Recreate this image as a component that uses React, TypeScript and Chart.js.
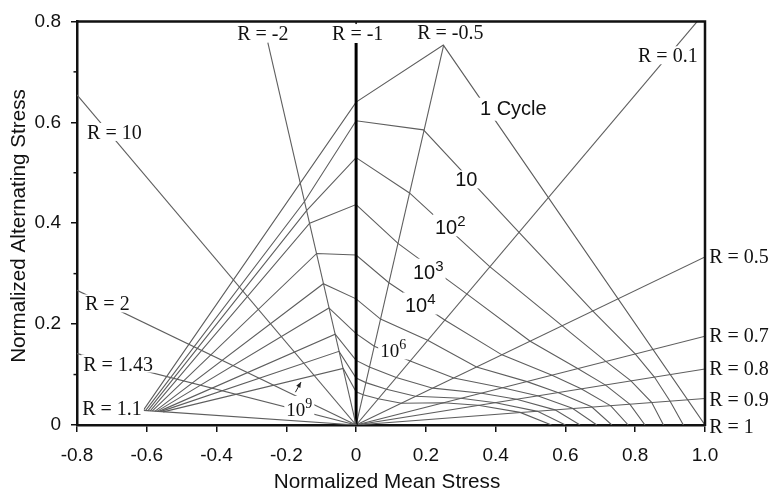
import React, { useEffect, useRef } from 'react';
import { Chart, registerables } from 'chart.js';

Chart.register(...registerables);

// ---- R-ratio rays (from origin to end point) ----
const rLineNames = ['R = 10', 'R = 2', 'R = 1.43', 'R = 1.1', 'R = -2', 'R = -1', 'R = -0.5', 'R = 0.1', 'R = 0.5', 'R = 0.7', 'R = 0.8', 'R = 0.9'];
const rLineEndMean = [-0.8, -0.8, -0.8, -0.62, -0.253, 0, 0.251, 0.978, 1.0, 1.0, 1.0, 1.0];
const rLineEndAlt = [0.6545, 0.267, 0.1416, 0.0295, 0.758, 0.757, 0.753, 0.8, 0.333, 0.176, 0.111, 0.0526];

// ---- constant life curves (normalized mean, normalized alternating) ----
const cycleNames = ['1', '10', '1e2', '1e3', '1e4', '1e5', '1e6', '1e7', '1e8', '1e9'];
const meanN1 = [-0.61, 0, 0.25, 1.0];
const altN1 = [0.029, 0.64, 0.753, 0];
const meanN10 = [-0.603, -0.148, 0, 0.193, 0.467, 0.678, 0.8, 0.855, 0.9, 0.938];
const altN10 = [0.029, 0.443, 0.603, 0.585, 0.382, 0.226, 0.141, 0.095, 0.047, 0];
const meanN1e2 = [-0.597, -0.142, 0, 0.153, 0.383, 0.59, 0.714, 0.787, 0.847, 0.881];
const altN1e2 = [0.028, 0.425, 0.53, 0.46, 0.314, 0.197, 0.127, 0.088, 0.045, 0];
const meanN1e3 = [-0.59, -0.133, 0, 0.12, 0.317, 0.499, 0.635, 0.715, 0.785, 0.828];
const altN1e3 = [0.028, 0.4, 0.437, 0.36, 0.26, 0.166, 0.112, 0.079, 0.041, 0];
const meanN1e4 = [-0.584, -0.113, 0, 0.094, 0.254, 0.418, 0.56, 0.645, 0.73, 0.78];
const altN1e4 = [0.028, 0.34, 0.337, 0.282, 0.208, 0.139, 0.099, 0.072, 0.038, 0];
const meanN1e5 = [-0.577, -0.094, 0, 0.07, 0.205, 0.345, 0.49, 0.58, 0.675, 0.733];
const altN1e5 = [0.027, 0.28, 0.25, 0.21, 0.168, 0.115, 0.086, 0.064, 0.036, 0];
const meanN1e6 = [-0.571, -0.078, 0, 0.052, 0.155, 0.28, 0.42, 0.52, 0.62, 0.69];
const altN1e6 = [0.027, 0.232, 0.181, 0.156, 0.127, 0.093, 0.074, 0.058, 0.033, 0];
const meanN1e7 = [-0.565, -0.06, 0, 0.038, 0.115, 0.22, 0.36, 0.46, 0.57, 0.642];
const altN1e7 = [0.027, 0.18, 0.128, 0.115, 0.094, 0.073, 0.063, 0.051, 0.03, 0];
const meanN1e8 = [-0.559, -0.049, 0, 0.028, 0.087, 0.17, 0.3, 0.4, 0.52, 0.6];
const altN1e8 = [0.027, 0.146, 0.093, 0.084, 0.071, 0.057, 0.053, 0.044, 0.027, 0];
const meanN1e9 = [-0.553, -0.037, 0, 0.02, 0.063, 0.13, 0.25, 0.35, 0.47, 0.56];
const altN1e9 = [0.026, 0.112, 0.066, 0.06, 0.052, 0.043, 0.044, 0.039, 0.025, 0];

const curveMeans = [meanN1, meanN10, meanN1e2, meanN1e3, meanN1e4, meanN1e5, meanN1e6, meanN1e7, meanN1e8, meanN1e9];
const curveAlts = [altN1, altN10, altN1e2, altN1e3, altN1e4, altN1e5, altN1e6, altN1e7, altN1e8, altN1e9];

// axis ticks
const xTickValues = [-0.8, -0.6, -0.4, -0.2, 0, 0.2, 0.4, 0.6, 0.8, 1.0];
const xTickLabels = ['-0.8', '-0.6', '-0.4', '-0.2', '0', '0.2', '0.4', '0.6', '0.8', '1.0'];
const yTickLabels = ['0', '0.2', '0.4', '0.6', '0.8'];
const yMinorTicks = [0.1, 0.3, 0.5, 0.7];

const xTitle = 'Normalized Mean Stress';
const yTitle = 'Normalized Alternating Stress';

// text annotations: base text, superscript, anchor (data coords, left/baseline), style
const annotations = [
  { t: '1 Cycle', s: '', x: 0.355, y: 0.615, f: 'sans', bg: true },
  { t: '10', s: '', x: 0.284, y: 0.473, f: 'sans', bg: true },
  { t: '10', s: '2', x: 0.226, y: 0.378, f: 'sans', bg: true },
  { t: '10', s: '3', x: 0.163, y: 0.29, f: 'sans', bg: true },
  { t: '10', s: '4', x: 0.14, y: 0.223, f: 'sans', bg: true },
  { t: '10', s: '6', x: 0.069, y: 0.134, f: 'serif', bg: true },
  { t: '10', s: '9', x: -0.2, y: 0.018, f: 'serif', bg: true },
  { t: 'R = -2', s: '', x: -0.341, y: 0.763, f: 'rlab', bg: true },
  { t: 'R = -1', s: '', x: -0.069, y: 0.763, f: 'rlab', bg: true },
  { t: 'R = -0.5', s: '', x: 0.175, y: 0.765, f: 'rlab', bg: true },
  { t: 'R = 0.1', s: '', x: 0.808, y: 0.719, f: 'rlab', bg: true },
  { t: 'R = 10', s: '', x: -0.771, y: 0.567, f: 'rlab', bg: true },
  { t: 'R = 2', s: '', x: -0.777, y: 0.227, f: 'rlab', bg: true },
  { t: 'R = 1.43', s: '', x: -0.782, y: 0.108, f: 'rlab', bg: true },
  { t: 'R = 1.1', s: '', x: -0.785, y: 0.02, f: 'rlab', bg: true },
  { t: 'R = 0.5', s: '', x: 1.012, y: 0.321, f: 'rlab', bg: false },
  { t: 'R = 0.7', s: '', x: 1.012, y: 0.164, f: 'rlab', bg: false },
  { t: 'R = 0.8', s: '', x: 1.012, y: 0.099, f: 'rlab', bg: false },
  { t: 'R = 0.9', s: '', x: 1.012, y: 0.037, f: 'rlab', bg: false },
  { t: 'R = 1', s: '', x: 1.012, y: -0.016, f: 'rlab', bg: false },
];
// arrow from the 10^9 label to its curve (data coords)
const arrowFrom = { x: -0.174, y: 0.065 };
const arrowTo = { x: -0.158, y: 0.085 };

const SANS = '"Liberation Sans", Arial, sans-serif';
const SERIF = '"Liberation Serif", "Times New Roman", serif';
const FONTS: Record<string, { base: string; sup: string; raise: number }> = {
  sans: { base: `20px ${SANS}`, sup: `15px ${SANS}`, raise: 8 },
  serif: { base: `19px ${SERIF}`, sup: `14px ${SERIF}`, raise: 8 },
  rlab: { base: `20px ${SERIF}`, sup: `14px ${SERIF}`, raise: 8 },
};

const LINE_COLOR = '#5e5e5e';
const TEXT_COLOR = '#111';

const overlayPlugin = {
  id: 'overlay',
  afterDatasetsDraw(chart: any) {
    const { ctx, chartArea, scales } = chart;
    const xs = scales.x;
    const ys = scales.y;
    ctx.save();
    // frame (top + right)
    ctx.strokeStyle = '#111';
    ctx.lineWidth = 2.5;
    ctx.beginPath();
    ctx.moveTo(chartArea.left - 1, chartArea.top);
    ctx.lineTo(chartArea.right, chartArea.top);
    ctx.lineTo(chartArea.right, chartArea.bottom + 1);
    ctx.stroke();
    // small inward tick on top axis at x=0
    ctx.lineWidth = 1.5;
    ctx.beginPath();
    const x0 = xs.getPixelForValue(0);
    ctx.moveTo(x0, chartArea.top);
    ctx.lineTo(x0, chartArea.top + 5);
    ctx.stroke();
    // minor y ticks
    for (const v of yMinorTicks) {
      const py = ys.getPixelForValue(v);
      ctx.beginPath();
      ctx.moveTo(chartArea.left - 3.5, py);
      ctx.lineTo(chartArea.left, py);
      ctx.stroke();
    }
    // annotations
    for (const a of annotations) {
      const f = FONTS[a.f];
      const px = xs.getPixelForValue(a.x);
      const py = ys.getPixelForValue(a.y);
      ctx.font = f.base;
      const m1 = ctx.measureText(a.t);
      let w = m1.width;
      let top = py - m1.actualBoundingBoxAscent;
      const bottom = py + Math.max(m1.actualBoundingBoxDescent, 0);
      let m2: any = null;
      if (a.s) {
        ctx.font = f.sup;
        m2 = ctx.measureText(a.s);
        w += m2.width;
        top = Math.min(top, py - f.raise - m2.actualBoundingBoxAscent);
      }
      if (a.bg) {
        ctx.fillStyle = '#fff';
        ctx.fillRect(px - 2, top - 2, w + 4, bottom - top + 4);
      }
      ctx.fillStyle = TEXT_COLOR;
      ctx.textAlign = 'left';
      ctx.textBaseline = 'alphabetic';
      ctx.font = f.base;
      ctx.fillText(a.t, px, py);
      if (a.s) {
        ctx.font = f.sup;
        ctx.fillText(a.s, px + m1.width, py - f.raise);
      }
    }
    // arrow
    const ax1 = xs.getPixelForValue(arrowFrom.x);
    const ay1 = ys.getPixelForValue(arrowFrom.y);
    const ax2 = xs.getPixelForValue(arrowTo.x);
    const ay2 = ys.getPixelForValue(arrowTo.y);
    ctx.strokeStyle = '#222';
    ctx.lineWidth = 1;
    ctx.beginPath();
    ctx.moveTo(ax1, ay1);
    ctx.lineTo(ax2, ay2);
    ctx.stroke();
    const ang = Math.atan2(ay2 - ay1, ax2 - ax1);
    ctx.fillStyle = '#222';
    ctx.beginPath();
    ctx.moveTo(ax2, ay2);
    ctx.lineTo(ax2 - 6 * Math.cos(ang - 0.4), ay2 - 6 * Math.sin(ang - 0.4));
    ctx.lineTo(ax2 - 6 * Math.cos(ang + 0.4), ay2 - 6 * Math.sin(ang + 0.4));
    ctx.closePath();
    ctx.fill();
    // axis titles
    ctx.fillStyle = TEXT_COLOR;
    ctx.font = `20.7px ${SANS}`;
    ctx.textAlign = 'center';
    ctx.textBaseline = 'alphabetic';
    ctx.fillText(xTitle, 387, 488);
    ctx.translate(25, 226);
    ctx.rotate(-Math.PI / 2);
    ctx.fillText(yTitle, 0, 0);
    ctx.restore();
  },
};

export default function App() {
  const ref = useRef<HTMLCanvasElement | null>(null);
  useEffect(() => {
    document.body.style.margin = '0';
    const canvas = ref.current!;
    const datasets: any[] = [];
    rLineNames.forEach((name, i) => {
      const isMinusOne = name === 'R = -1';
      datasets.push({
        label: name,
        data: [
          { x: 0, y: 0 },
          { x: rLineEndMean[i], y: rLineEndAlt[i] },
        ],
        showLine: true,
        borderColor: isMinusOne ? '#000' : LINE_COLOR,
        borderWidth: isMinusOne ? 3 : 1.1,
        pointRadius: 0,
        fill: false,
      });
    });
    cycleNames.forEach((name, i) => {
      datasets.push({
        label: 'N = ' + name,
        data: curveMeans[i].map((m, j) => ({ x: m, y: curveAlts[i][j] })),
        showLine: true,
        borderColor: LINE_COLOR,
        borderWidth: 1.1,
        pointRadius: 0,
        fill: false,
        tension: 0,
      });
    });

    const chart = new Chart(canvas, {
      type: 'scatter',
      data: { datasets },
      plugins: [overlayPlugin],
      options: {
        animation: false,
        responsive: false,
        devicePixelRatio: 1,
        layout: { padding: { left: 0, top: 18, right: 66, bottom: 0 } },
        plugins: { legend: { display: false }, tooltip: { enabled: false } },
        scales: {
          x: {
            type: 'linear',
            min: -0.8,
            max: 1.0,
            afterBuildTicks: (scale: any) => {
              scale.ticks = xTickValues.map((v) => ({ value: v }));
            },
            afterFit: (scale: any) => {
              scale.height = 70;
            },
            ticks: {
              autoSkip: false,
              maxRotation: 0,
              padding: 12,
              color: TEXT_COLOR,
              font: { family: SANS, size: 19 },
              callback: (_v: any, idx: number) => xTickLabels[idx],
            },
            grid: { drawOnChartArea: false, drawTicks: true, tickLength: 7, color: '#111', lineWidth: 1.5 },
            border: { display: true, color: '#111', width: 2.5 },
          },
          y: {
            type: 'linear',
            min: 0,
            max: 0.8,
            afterBuildTicks: (scale: any) => {
              scale.ticks = [0, 0.2, 0.4, 0.6, 0.8].map((v) => ({ value: v }));
            },
            afterFit: (scale: any) => {
              scale.width = 77;
            },
            ticks: {
              padding: 10,
              color: TEXT_COLOR,
              font: { family: SANS, size: 19 },
              callback: (_v: any, idx: number) => yTickLabels[idx],
            },
            grid: { drawOnChartArea: false, drawTicks: true, tickLength: 6, color: '#111', lineWidth: 1.5 },
            border: { display: true, color: '#111', width: 2.5 },
          },
        },
      },
    } as any);
    return () => chart.destroy();
  }, []);
  return <canvas ref={ref} width={771} height={495} style={{ display: 'block', width: 771, height: 495 }} />;
}
